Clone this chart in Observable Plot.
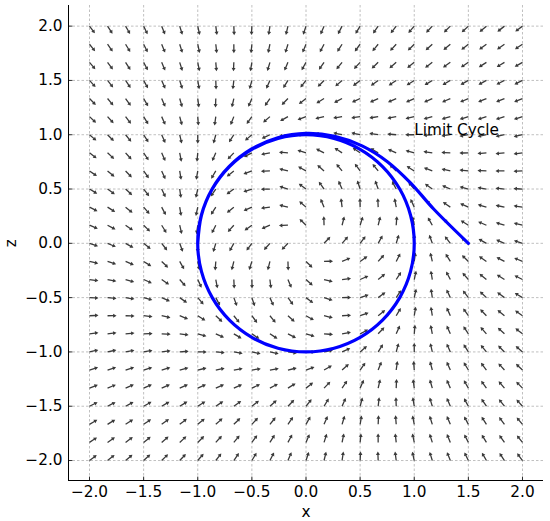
<!DOCTYPE html>
<html><head><meta charset="utf-8">
<script src="https://cdn.jsdelivr.net/npm/d3@7"></script>
<script src="https://cdn.jsdelivr.net/npm/@observablehq/plot@0.6"></script>
<style>html,body{margin:0;padding:0;background:#fff} svg text{font-family:"DejaVu Sans",sans-serif}</style>
</head><body><div id="chart"></div>
<script>
// Tick labels (both axes)
const xTicks = [-2.0, -1.5, -1.0, -0.5, 0.0, 0.5, 1.0, 1.5, 2.0];
const zTicks = [-2.0, -1.5, -1.0, -0.5, 0.0, 0.5, 1.0, 1.5, 2.0];
// Quiver grid (25 x 25)
const gridX = [-2, -1.8333, -1.6667, -1.5, -1.3333, -1.1667, -1, -0.8333, -0.6667, -0.5, -0.3333, -0.1667, 0,
  0.1667, 0.3333, 0.5, 0.6667, 0.8333, 1, 1.1667, 1.3333, 1.5, 1.6667, 1.8333, 2];
const gridZ = [-2, -1.8333, -1.6667, -1.5, -1.3333, -1.1667, -1, -0.8333, -0.6667, -0.5, -0.3333, -0.1667, 0,
  0.1667, 0.3333, 0.5, 0.6667, 0.8333, 1, 1.1667, 1.3333, 1.5, 1.6667, 1.8333, 2];
// Trajectory starting at (1.5, 0), settling on the limit cycle
const trajX = [1.5, 1.1793, 0.9653, 0.7519, 0.5180, 0.2642, 0, -0.2607, -0.5021, -0.7089, -0.8673, -0.9668, -1.0005,
  -0.9659, -0.8660, -0.7071, -0.5, -0.2588, 0, 0.2588, 0.5, 0.7071, 0.8660, 0.9659, 1,
  0.9659, 0.8660, 0.7071, 0.5, 0.2588, 0, -0.2588, -0.5, -0.7071, -0.8660, -0.9659, -1];
const trajZ = [0, 0.3160, 0.5573, 0.7519, 0.8973, 0.9861, 1.0123, 0.9729, 0.8697, 0.7089, 0.5007, 0.2590, 0,
  -0.2588, -0.5, -0.7071, -0.8660, -0.9659, -1, -0.9659, -0.8660, -0.7071, -0.5, -0.2588, 0,
  0.2588, 0.5, 0.7071, 0.8660, 0.9659, 1, 0.9659, 0.8660, 0.7071, 0.5, 0.2588, 0];
const annotation = ["Limit Cycle"];
const xLabel = ["x"], zLabel = ["z"];

// Phase-plane system shown by the arrows (Hopf normal form)
const field = [];
for (const z of gridZ) for (const x of gridX) {
  const r2 = x * x + z * z;
  const u = x - z - x * r2, v = x + z - z * r2;
  if (u === 0 && v === 0) continue;
  field.push({x, z, rot: Math.atan2(u, v) * 180 / Math.PI});
}
const traj = trajX.map((x, i) => ({x, z: trajZ[i]}));

const xMin = -2.194, xMax = 2.194, yMin = -2.184, yMax = 2.19;
const fmt = d3.format(".1f");
const FS = 15.3;
const FF = "'DejaVu Sans', sans-serif";

const quiverShape = {
  draw(ctx, l) {
    const w = 0.65, hw = 2.0, hl = 3.4;
    ctx.moveTo(-w, 0);
    ctx.lineTo(-w, -(l - hl));
    ctx.lineTo(-hw, -(l - hl));
    ctx.lineTo(0, -l);
    ctx.lineTo(hw, -(l - hl));
    ctx.lineTo(w, -(l - hl));
    ctx.lineTo(w, 0);
    ctx.closePath();
  }
};
const tickShape = {draw(ctx, l) { ctx.moveTo(0, 0); ctx.lineTo(0, -l); }};
const txt = {fontSize: FS, fontFamily: FF, fill: "#000"};

const chart = Plot.plot({
  width: 550, height: 521,
  marginLeft: 68, marginRight: 7, marginTop: 5, marginBottom: 41,
  x: {domain: [xMin, xMax], axis: null},
  y: {domain: [yMin, yMax], axis: null},
  style: {fontFamily: FF, fontSize: FS + "px", background: "#fff", color: "#000"},
  marks: [
    Plot.gridX(xTicks, {stroke: "#b0b0b0", strokeOpacity: 1, strokeWidth: 0.8, strokeDasharray: "2.5,2"}),
    Plot.gridY(zTicks, {stroke: "#b0b0b0", strokeOpacity: 1, strokeWidth: 0.8, strokeDasharray: "2.5,2"}),
    Plot.vector(field, {x: "x", y: "z", rotate: "rot", length: 9, anchor: "start", shape: quiverShape,
      fill: "#3a3a3a", stroke: "none"}),
    Plot.line(traj, {x: "x", y: "z", stroke: "#0000ff", strokeWidth: 3.2, curve: "catmull-rom"}),
    Plot.ruleX([xMin], {y1: yMin, y2: yMax, stroke: "#000", strokeWidth: 1}),
    Plot.ruleY([yMin], {x1: xMin, x2: xMax, stroke: "#000", strokeWidth: 1}),
    Plot.vector(xTicks, {x: d => d, y: yMin, length: 3.5, rotate: 0, anchor: "start", shape: tickShape, stroke: "#000", strokeWidth: 0.8}),
    Plot.vector(zTicks, {x: xMin, y: d => d, length: 3.5, rotate: 90, anchor: "start", shape: tickShape, stroke: "#000", strokeWidth: 0.8}),
    Plot.text(xTicks, {x: d => d, y: yMin, text: fmt, dy: 6, lineAnchor: "top", ...txt}),
    Plot.text(zTicks, {x: xMin, y: d => d, text: fmt, dx: -6, textAnchor: "end", lineAnchor: "middle", ...txt}),
    Plot.text(xLabel, {x: 0, y: yMin, text: d => d, dy: 32, lineAnchor: "middle", ...txt}),
    Plot.text(zLabel, {x: xMin, y: 0, text: d => d, dx: -57, rotate: -90, lineAnchor: "middle", ...txt}),
    Plot.text(annotation, {x: 1.0, y: 1.0, text: d => d, textAnchor: "start", lineAnchor: "middle", dy: -5, ...txt})
  ]
});
document.getElementById("chart").appendChild(chart);
</script>
</body></html>
